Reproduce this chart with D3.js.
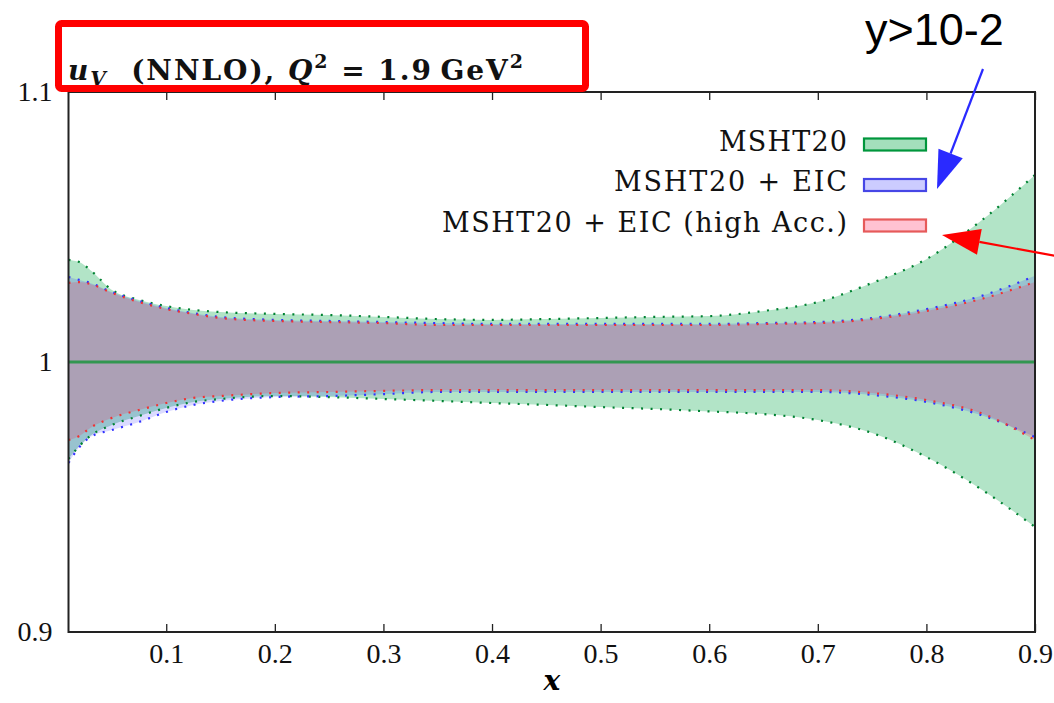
<!DOCTYPE html>
<html>
<head>
<meta charset="utf-8">
<script src="https://cdn.jsdelivr.net/npm/d3@7"></script>
<style>
  body { margin: 0; background: #fff; }
  svg { display: block; }
  .tick text { font-family: "Liberation Serif", serif; fill: #111; }
</style>
</head>
<body>
<svg id="chart" width="1054" height="703"></svg>
<script>
// x grid of the bands
var xs = [0.01, 0.02, 0.03, 0.05, 0.075, 0.1, 0.125, 0.15, 0.2, 0.25, 0.3, 0.35, 0.4, 0.45, 0.5, 0.55, 0.6, 0.65, 0.7, 0.75, 0.8, 0.85, 0.9];

// MSHT20
var mshtUp = [1.0378, 1.0370, 1.0341, 1.0267, 1.0230, 1.0207, 1.0193, 1.0185, 1.0178, 1.0174, 1.0167, 1.0159, 1.0156, 1.0159, 1.0163, 1.0167, 1.0170, 1.0189, 1.0222, 1.0293, 1.0381, 1.0522, 1.0693];
var mshtLo = [0.9641, 0.9689, 0.9726, 0.9767, 0.9800, 0.9830, 0.9852, 0.9863, 0.9874, 0.9870, 0.9863, 0.9856, 0.9848, 0.9841, 0.9833, 0.9826, 0.9817, 0.9807, 0.9785, 0.9737, 0.9648, 0.9530, 0.9389];
// MSHT20 + EIC
var eicUp = [1.0315, 1.0304, 1.0293, 1.0259, 1.0226, 1.0200, 1.0181, 1.0167, 1.0156, 1.0152, 1.0148, 1.0144, 1.0141, 1.0141, 1.0141, 1.0141, 1.0141, 1.0144, 1.0148, 1.0163, 1.0196, 1.0244, 1.0319];
var eicLo = [0.9626, 0.9685, 0.9722, 0.9748, 0.9778, 0.9815, 0.9841, 0.9856, 0.9870, 0.9874, 0.9881, 0.9889, 0.9889, 0.9889, 0.9889, 0.9889, 0.9889, 0.9889, 0.9889, 0.9878, 0.9852, 0.9804, 0.9722];
// MSHT20 + EIC (high Acc.)
var hiUp = [1.0293, 1.0296, 1.0289, 1.0256, 1.0222, 1.0196, 1.0178, 1.0163, 1.0152, 1.0148, 1.0144, 1.0137, 1.0137, 1.0137, 1.0137, 1.0137, 1.0137, 1.0141, 1.0144, 1.0159, 1.0189, 1.0233, 1.0296];
var hiLo = [0.9711, 0.9726, 0.9756, 0.9793, 0.9822, 0.9848, 0.9867, 0.9874, 0.9885, 0.9889, 0.9893, 0.9896, 0.9896, 0.9896, 0.9896, 0.9896, 0.9896, 0.9896, 0.9896, 0.9885, 0.9859, 0.9811, 0.9711];

var xTicks = [0.1, 0.2, 0.3, 0.4, 0.5, 0.6, 0.7, 0.8, 0.9];
var yTicks = [0.9, 1, 1.1];
var legendNames = ["MSHT20", "MSHT20 + EIC", "MSHT20 + EIC (high Acc.)"];
var legendWidths = [128, 233, 405];

var series = [
  { name: legendNames[0], up: mshtUp, lo: mshtLo, fill: "rgb(0,165,70)", alpha: 0.3, edge: "rgb(0,130,50)", box: "rgb(0,150,60)" },
  { name: legendNames[1], up: eicUp, lo: eicLo, fill: "rgb(0,0,255)", alpha: 0.14, edge: "rgb(50,50,255)", box: "rgb(70,70,230)" },
  { name: legendNames[2], up: hiUp, lo: hiLo, fill: "rgb(255,20,80)", alpha: 0.2, edge: "rgb(240,50,50)", box: "rgb(230,90,90)" }
];

var svg = d3.select("#chart");
var pLeft = 68.5, pRight = 1035, pTop = 92, pBottom = 632;

var x = d3.scaleLinear().domain([0.01, 0.9]).range([pLeft, pRight]);
var y = d3.scaleLinear().domain([0.9, 1.1]).range([pBottom, pTop]);

svg.append("defs").append("clipPath").attr("id", "plotclip")
  .append("rect").attr("x", pLeft).attr("y", pTop).attr("width", pRight - pLeft).attr("height", pBottom - pTop);

var plot = svg.append("g").attr("clip-path", "url(#plotclip)");

var area = d3.area()
  .x(function(d) { return x(d.x); })
  .y0(function(d) { return y(d.lo); })
  .y1(function(d) { return y(d.up); })
  .curve(d3.curveMonotoneX);

var edgeUp = d3.line().x(function(d) { return x(d.x); }).y(function(d) { return y(d.up); }).curve(d3.curveMonotoneX);
var edgeLo = d3.line().x(function(d) { return x(d.x); }).y(function(d) { return y(d.lo); }).curve(d3.curveMonotoneX);

series.forEach(function(s) {
  s.pts = xs.map(function(v, i) { return { x: v, up: s.up[i], lo: s.lo[i] }; });
  plot.append("path")
    .attr("d", area(s.pts))
    .attr("fill", s.fill)
    .attr("fill-opacity", s.alpha);
});

series.forEach(function(s) {
  [edgeUp, edgeLo].forEach(function(fn) {
    plot.append("path")
      .attr("d", fn(s.pts))
      .attr("fill", "none")
      .attr("stroke", s.edge)
      .attr("stroke-width", 2.2)
      .attr("stroke-dasharray", "2 7.5");
  });
});

// central value
plot.append("line")
  .attr("x1", pLeft).attr("x2", pRight)
  .attr("y1", y(1)).attr("y2", y(1))
  .attr("stroke", "rgb(50,150,80)")
  .attr("stroke-width", 3);

// axes
var bottomAxis = d3.axisBottom(x).tickValues(xTicks).tickSizeInner(-8).tickSizeOuter(0).tickPadding(11)
  .tickFormat(d3.format(".1f"));
var gb = svg.append("g").attr("transform", "translate(0," + pBottom + ")").call(bottomAxis);
gb.select(".domain").remove();
gb.selectAll(".tick line").attr("stroke", "#222").attr("stroke-width", 1.3);
gb.selectAll(".tick text").attr("font-size", 28);

var topAxis = d3.axisTop(x).tickValues(xTicks).tickSizeInner(-8).tickSizeOuter(0).tickFormat("");
var gt = svg.append("g").attr("transform", "translate(0," + pTop + ")").call(topAxis);
gt.select(".domain").remove();
gt.selectAll(".tick line").attr("stroke", "#222").attr("stroke-width", 1.3);

var leftAxis = d3.axisLeft(y).tickValues(yTicks).tickSize(0).tickPadding(16)
  .tickFormat(function(d) { return d === 1 ? "1" : d3.format(".1f")(d); });
var gl = svg.append("g").attr("transform", "translate(" + pLeft + ",0)").call(leftAxis);
gl.select(".domain").remove();
gl.selectAll(".tick text").attr("font-size", 28);

svg.append("rect")
  .attr("x", pLeft).attr("y", pTop)
  .attr("width", pRight - pLeft).attr("height", pBottom - pTop)
  .attr("fill", "none").attr("stroke", "#222").attr("stroke-width", 2);

svg.append("text")
  .attr("x", (pLeft + pRight) / 2).attr("y", 690)
  .attr("text-anchor", "middle")
  .attr("font-family", "DejaVu Serif, serif")
  .attr("font-style", "italic").attr("font-weight", "bold")
  .attr("font-size", 28)
  .text("x");

// legend
var legend = svg.append("g");
series.forEach(function(s, i) {
  var cy = 144.5 + i * 40.5;
  legend.append("text")
    .attr("x", 847 - legendWidths[i]).attr("y", cy + 6)
    .attr("font-family", "DejaVu Serif, serif")
    .attr("font-size", 27)
    .attr("textLength", legendWidths[i]).attr("lengthAdjust", "spacing")
    .attr("fill", "#111")
    .text(s.name);
  legend.append("rect")
    .attr("x", 864).attr("y", cy - 6)
    .attr("width", 62).attr("height", 12)
    .attr("fill", s.fill).attr("fill-opacity", s.alpha + 0.06)
    .attr("stroke", s.box).attr("stroke-width", 2.2);
});

// title
var title = svg.append("text")
  .attr("x", 68).attr("y", 80)
  .attr("font-family", "DejaVu Serif, serif")
  .attr("font-weight", "bold")
  .attr("font-size", 28)
  .attr("fill", "#111");
title.append("tspan").attr("font-style", "italic").text("u");
title.append("tspan").attr("font-style", "italic").attr("font-size", 20).attr("dy", 6).text("V");
title.append("tspan").attr("dy", -6).text("\u00a0\u00a0(NNLO), ");
title.append("tspan").attr("font-style", "italic").text("Q");
title.append("tspan").attr("font-size", 19).attr("dy", -12).text("2");
title.append("tspan").attr("dy", 12).text(" = 1.9\u2009GeV");
title.append("tspan").attr("font-size", 19).attr("dy", -12).text("2");
var tw = title.node().getComputedTextLength();
if (tw < 455) title.attr("textLength", 455).attr("lengthAdjust", "spacing");

// red highlight box round the title
svg.append("rect")
  .attr("x", 58.5).attr("y", 23.5)
  .attr("width", 527).attr("height", 65)
  .attr("rx", 3)
  .attr("fill", "none").attr("stroke", "#ff0000").attr("stroke-width", 7);

// annotation
svg.append("text")
  .attr("x", 865).attr("y", 45)
  .attr("font-family", "Liberation Sans, Arial, sans-serif")
  .attr("font-size", 45)
  .attr("fill", "#000")
  .text("y>10-2");

function arrow(x1, y1, x2, y2, color, headLen, headW) {
  var a = Math.atan2(y2 - y1, x2 - x1);
  var bx = x2 - Math.cos(a) * headLen, by = y2 - Math.sin(a) * headLen;
  svg.append("line")
    .attr("x1", x1).attr("y1", y1).attr("x2", bx).attr("y2", by)
    .attr("stroke", color).attr("stroke-width", 2.2);
  var px = -Math.sin(a) * headW / 2, py = Math.cos(a) * headW / 2;
  svg.append("path")
    .attr("d", "M" + x2 + "," + y2 + "L" + (bx + px) + "," + (by + py) + "L" + (bx - px) + "," + (by - py) + "Z")
    .attr("fill", color);
}
arrow(983, 69, 937, 189, "#2a2aff", 38, 26);
arrow(1056, 256, 942, 235, "#ff0000", 38, 26);
</script>
</body>
</html>
